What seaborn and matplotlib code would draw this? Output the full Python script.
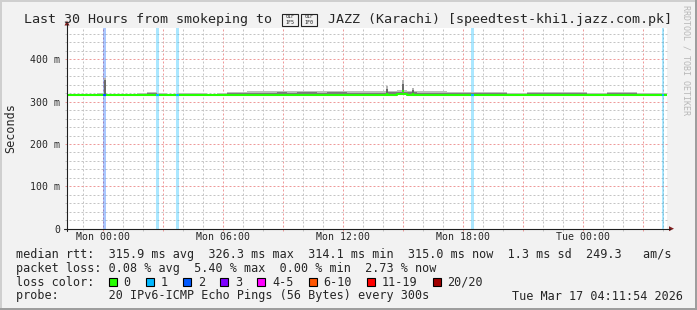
import numpy as np
import matplotlib
matplotlib.use("Agg")
import matplotlib.pyplot as plt
import seaborn as sns
from matplotlib.patches import Rectangle, Polygon
from matplotlib.lines import Line2D

# ---------------- data ----------------
seg_start_h = -1.8          # Sun 22:12 relative to Mon 00:00
seg_len_h = 0.5
median_ms = [316.5, 316.0, 316.5, 316.0, 316.5, 316.5, 316.0, 316.5, 316.5, 316.0,
             316.5, 316.5, 316.0, 316.0, 316.5, 316.5, 316.0, 316.5, 316.0, 316.0,
             316.0, 315.5, 315.5, 316.0, 316.0, 315.5, 315.5, 316.0, 316.0, 316.0,
             316.0, 315.5, 316.0, 317.5, 316.5, 316.0, 315.5, 316.0, 316.5, 316.0,
             316.5, 316.0, 316.0, 315.5, 315.5, 315.5, 315.0, 315.5, 315.5, 315.0,
             315.5, 315.0, 315.5, 315.5, 315.0, 315.5, 315.5, 315.0, 315.0, 315.0]
smoke_hi_ms = [319.0, 319.0, 318.5, 319.5, 318.5, 319.0, 319.0, 319.5, 322.0, 320.0,
               319.0, 320.0, 321.5, 320.0, 319.0, 320.0, 322.0, 322.0, 324.5, 324.5,
               324.5, 325.5, 324.5, 325.5, 325.5, 324.5, 325.5, 325.5, 324.5, 324.5,
               324.5, 324.5, 325.5, 327.0, 325.5, 324.5, 324.5, 324.5, 323.5, 323.5,
               324.0, 323.0, 323.0, 322.0, 321.0, 321.0, 322.0, 322.0, 323.0, 322.0,
               322.0, 322.0, 321.0, 321.5, 322.0, 324.0, 324.0, 321.0, 320.5, 319.5]
smoke_dark_ms = [318.0, 318.0, 318.0, 318.5, 318.0, 318.0, 318.0, 318.5, 319.5, 318.5,
                 318.0, 318.5, 319.0, 318.0, 318.0, 318.5, 320.0, 320.0, 321.5, 321.5,
                 321.5, 322.0, 321.5, 322.0, 322.0, 321.5, 322.0, 322.0, 321.5, 321.5,
                 321.5, 321.5, 322.0, 323.0, 322.0, 321.5, 321.5, 321.5, 321.0, 321.0,
                 321.0, 320.0, 320.0, 319.5, 319.0, 319.0, 319.5, 319.5, 320.0, 319.5,
                 319.5, 319.5, 319.0, 319.0, 319.5, 320.5, 320.5, 319.0, 318.5, 318.0]
spike_h = [0.04, 14.15, 14.95, 15.45]
spike_top_ms = [355.0, 337.0, 351.0, 332.0]
spike_dark_ms = [352.0, 331.0, 341.0, 327.0]
spike_med_ms = [316.5, 318.0, 326.0, 317.0]
loss_h = [0.02, 2.65, 3.65, 18.4, 27.93]
loss_n = [2, 1, 1, 1, 1]

loss_labels = ["0", "1", "2", "3", "4-5", "6-10", "11-19", "20/20"]
loss_colors = ["#26ff00", "#00b8ff", "#0059ff", "#7e00ff", "#ff00ff",
               "#ff5500", "#ff0000", "#a00000"]
x_tick_h = [0, 6, 12, 18, 24]
x_tick_labels = ["Mon 00:00", "Mon 06:00", "Mon 12:00", "Mon 18:00", "Tue 00:00"]
y_tick_ms = [0, 100, 200, 300, 400]
y_tick_labels = ["0", "100 m", "200 m", "300 m", "400 m"]

title_left = "Last 30 Hours from smokeping to"
title_flag_codes = ["01F\n1F5", "01F\n1F0"]   # the flag (U+1F1F5 U+1F1F0) shown as code boxes
title_right = "JAZZ (Karachi) [speedtest-khi1.jazz.com.pk]"
legend_rtt = "median rtt:  315.9 ms avg  326.3 ms max  314.1 ms min  315.0 ms now  1.3 ms sd  249.3   am/s"
legend_loss = "packet loss: 0.08 % avg  5.40 % max  0.00 % min  2.73 % now"
legend_color_head = "loss color:"
legend_probe = "probe:       20 IPv6-ICMP Echo Pings (56 Bytes) every 300s"
legend_date = "Tue Mar 17 04:11:54 2026"
watermark = "RRDTOOL / TOBI OETIKER"
ylabel = "Seconds"

# ---------------- style ----------------
sns.set_style("white")
plt.rcParams["font.family"] = ["DejaVu Sans Mono", "DejaVu Sans"]
plt.rcParams["lines.scale_dashes"] = False

W, H = 697, 310
fig = plt.figure(figsize=(W / 100, H / 100), dpi=100)
fig.patch.set_facecolor("#F2F2F2")

def fx(px):
    return px / W

def fy(py):
    return 1 - py / H

# frame shading
fig.add_artist(Rectangle((0, fy(2)), 1, 2 / H, transform=fig.transFigure, color="#CFCFCF", lw=0))
fig.add_artist(Rectangle((0, 0), 2 / W, 1, transform=fig.transFigure, color="#CFCFCF", lw=0))
fig.add_artist(Rectangle((0, 0), 1, 2 / H, transform=fig.transFigure, color="#9E9E9E", lw=0))
fig.add_artist(Rectangle((fx(695), 0), 2 / W, 1, transform=fig.transFigure, color="#9E9E9E", lw=0))

X0, X1, Y0, Y1 = 67, 667, 228.7, 28
ax = fig.add_axes([fx(X0), fy(Y0), (X1 - X0) / W, (Y0 - Y1) / H])
ax.set_facecolor("white")
xmin, xmax = -1.8, 28.2
ymin, ymax = 0.0, 474.0
ax.set_xlim(xmin, xmax)
ax.set_ylim(ymin, ymax)
for s in ax.spines.values():
    s.set_visible(False)

px_y = (ymax - ymin) / (Y0 - Y1)   # ms per pixel
px_x = (xmax - xmin) / (X1 - X0)   # hours per pixel

# grid
dash = (0, (1.44, 1.44))
for h in range(-1, 29):
    major = (h % 3 == 0)
    ax.plot([h, h], [-2 * px_y, ymax], color="#EE9A9A" if major else "#C4C4C4",
            lw=0.72, ls=dash, clip_on=False, zorder=1)
for v in range(20, 474, 20):
    major = (v % 100 == 0)
    ax.plot([xmin - 2 * px_x, xmax], [v, v], color="#EE9A9A" if major else "#C4C4C4",
            lw=0.72, ls=dash, clip_on=False, zorder=1)

# loss background bands
for h, n in zip(loss_h, loss_n):
    ax.axvspan(h, h + 0.13, color=loss_colors[n], alpha=0.33, lw=0, zorder=2)

# smoke
t_edges = seg_start_h + seg_len_h * np.arange(len(median_ms) + 1)
med_ext = np.array(median_ms + [median_ms[-1]])
hi_ext = np.array(smoke_hi_ms + [smoke_hi_ms[-1]])
dark_ext = np.array(smoke_dark_ms + [smoke_dark_ms[-1]])
ax.fill_between(t_edges, med_ext - 1.5, hi_ext, step="post", color="#BDBDBD", lw=0, zorder=3)
ax.fill_between(t_edges, med_ext - 1.0, dark_ext, step="post", color="#7C7C7C", lw=0, zorder=3)
for h, top, dk, md in zip(spike_h, spike_top_ms, spike_dark_ms, spike_med_ms):
    ax.fill_between([h, h + 0.12], [md, md], [top, top], color="#B4B4B4", lw=0, zorder=3)
    ax.fill_between([h, h + 0.12], [md, md], [dk, dk], color="#6A6A6A", lw=0, zorder=3)

# median line
sns.lineplot(x=t_edges, y=med_ext, drawstyle="steps-post", color=loss_colors[0],
             lw=1.5, ax=ax, zorder=4, legend=False)
for h, top, dk, md in zip(spike_h, spike_top_ms, spike_dark_ms, spike_med_ms):
    ax.plot([h, h + 0.12], [md, md], color=loss_colors[0], lw=1.5, zorder=4,
            solid_capstyle="butt")
for h, n in zip(loss_h, loss_n):
    i = int(np.clip((h - seg_start_h) // seg_len_h, 0, len(median_ms) - 1))
    ax.plot([h, h + 0.13], [median_ms[i], median_ms[i]], color=loss_colors[n],
            lw=1.5, zorder=5, solid_capstyle="butt")

# ticks
ax.set_xticks(x_tick_h)
ax.set_xticklabels(x_tick_labels, fontsize=7.1)
ax.set_yticks(y_tick_ms)
ax.set_yticklabels(y_tick_labels, fontsize=7.1)
ax.tick_params(axis="x", length=0, pad=2.2)
ax.tick_params(axis="y", length=0, pad=5)
ax.set_xlabel("")
ax.set_ylabel("")

# axes lines + arrows
fig.add_artist(Line2D([fx(X0), fx(X0)], [fy(231), fy(24)], color="#1F1F1F", lw=0.8,
                      transform=fig.transFigure))
fig.add_artist(Line2D([fx(64), fx(670)], [fy(Y0), fy(Y0)], color="#1F1F1F", lw=0.8,
                      transform=fig.transFigure))
fig.add_artist(Polygon([(fx(64.5), fy(25.5)), (fx(69.5), fy(25.5)), (fx(67), fy(20.5))],
                       closed=True, color="#801F1F", lw=0, transform=fig.transFigure))
fig.add_artist(Polygon([(fx(669), fy(226.2)), (fx(669), fy(231.2)), (fx(674), fy(Y0))],
                       closed=True, color="#801F1F", lw=0, transform=fig.transFigure))

# title (flag glyphs are not in any installed font -> drawn as code boxes)
fig.text(fx(24.4), fy(19.5), title_left, ha="left", va="center", fontsize=9.6)
bx = 282.0
for code in title_flag_codes:
    fig.add_artist(Rectangle((fx(bx), fy(25.5)), 16 / W, 12 / H, transform=fig.transFigure,
                             facecolor="none", edgecolor="#222222", lw=0.8))
    fig.text(fx(bx + 8), fy(19.5), code, ha="center", va="center", fontsize=3.6,
             linespacing=1.0, color="#222222")
    bx += 19.0
fig.text(fx(328), fy(19.5), title_right, ha="left", va="center", fontsize=9.6)

fig.text(fx(10.5), fy(128), ylabel, ha="center", va="center", rotation=90, fontsize=8.5)
fig.text(fx(686), fy(60), watermark, ha="center", va="center", rotation=270,
         fontsize=6, color="#B8B8B8")

# legend
fs = 8.5
cw = 7.14
fig.text(fx(16), fy(254.7), legend_rtt, ha="left", va="center", fontsize=fs)
fig.text(fx(16), fy(268.3), legend_loss, ha="left", va="center", fontsize=fs)
fig.text(fx(16), fy(282.3), legend_color_head, ha="left", va="center", fontsize=fs)
xpos = 16 + 13 * cw
for lab, col in zip(loss_labels, loss_colors):
    fig.add_artist(Rectangle((fx(xpos), fy(286.3)), 8 / W, 8 / H, transform=fig.transFigure,
                             facecolor=col, edgecolor="black", lw=0.8))
    fig.text(fx(xpos + 14.6), fy(282.3), lab, ha="left", va="center", fontsize=fs)
    xpos += 15.7 + len(lab) * cw + 2 * cw
fig.text(fx(16), fy(296), legend_probe, ha="left", va="center", fontsize=fs)
fig.text(fx(683), fy(296), legend_date, ha="right", va="center", fontsize=fs)

fig.savefig("out.png", dpi=100, facecolor=fig.get_facecolor())
